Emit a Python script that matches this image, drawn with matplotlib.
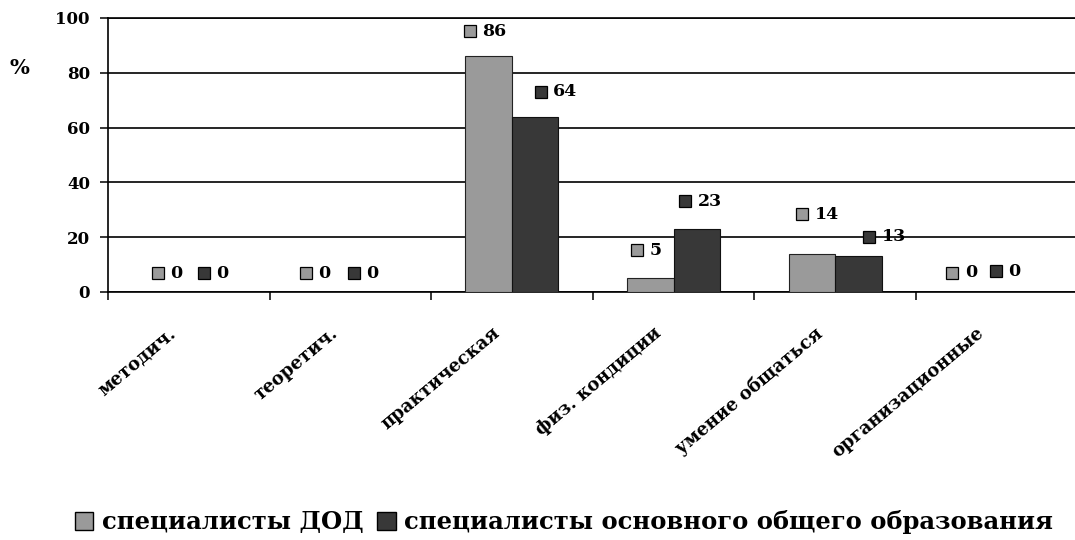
import matplotlib
matplotlib.use("Agg")
import matplotlib.pyplot as plt
import matplotlib.transforms as mtransforms
from matplotlib.patches import Patch
import numpy as np

# ---- data ----
categories = ["методич.", "теоретич.", "практическая", "физ. кондиции",
              "умение общаться", "организационные"]
series_names = ["специалисты ДОД", "специалисты основного общего образования"]
dod_values = [0, 0, 86, 5, 14, 0]
general_values = [0, 0, 64, 23, 13, 0]
y_ticks = [0, 20, 40, 60, 80, 100]

# ---- style ----
GRAY = "#9a9a9a"
DARK = "#383838"
FONT = "DejaVu Serif"
# label offsets (pixels) of marker center relative to bar top-center
dod_label_off = [(-8, 19), (-21, 19), (-19, 25), (-13.5, 28), (-9.5, 39.5), (-21, 19.5)]
gen_label_off = [(-8, 19), (-20, 19), (5.5, 25), (-11.5, 27.5), (11, 19.5), (-24, 21)]

W, H, DPI = 1075, 540, 100
fig = plt.figure(figsize=(W / DPI, H / DPI), dpi=DPI)
ax = fig.add_axes([108 / W, 1 - 292 / H, (1077.5 - 108) / W, 274 / H])

x = np.arange(len(categories))
bw = 0.288
ax.bar(x - bw / 2, dod_values, bw, color=GRAY, edgecolor="#222222", linewidth=0.8, zorder=3)
ax.bar(x + bw / 2, general_values, bw, color=DARK, edgecolor="#111111", linewidth=0.8, zorder=3)

ax.set_xlim(-0.5, len(categories) - 0.5)
ax.set_ylim(0, 100)
ax.set_yticks(y_ticks)
ax.set_yticklabels([str(v) for v in y_ticks], fontfamily=FONT, fontweight="bold", fontsize=12)
ax.yaxis.grid(True, color="black", linewidth=1.2, zorder=1)
ax.set_axisbelow(True)
ax.tick_params(axis="y", direction="out", length=6, width=1.1, pad=7, color="black")

ax.set_xticks(x)
ax.set_xticklabels(categories, rotation=40, ha="right", va="top",
                   fontfamily=FONT, fontweight="bold", fontsize=13)
ax.set_xticks(np.arange(-0.5, len(categories) + 0.5, 1), minor=True)
ax.tick_params(axis="x", which="major", length=0, pad=23)
ax.tick_params(axis="x", which="minor", direction="out", length=6, width=1.1, color="black")
shift = mtransforms.ScaledTranslation(-9 / DPI, 0, fig.dpi_scale_trans)
for lab in ax.get_xticklabels():
    lab.set_transform(lab.get_transform() + shift)

ax.spines["right"].set_visible(False)
for s in ["left", "bottom", "top"]:
    ax.spines[s].set_linewidth(1.2)
    ax.spines[s].set_color("black")

# data labels with legend keys
def add_labels(xpos, vals, offs, color):
    for xi, v, (dx, dy) in zip(xpos, vals, offs):
        tm = mtransforms.offset_copy(ax.transData, fig=fig, x=dx, y=dy, units="dots")
        ax.plot([xi], [v], marker="s", markersize=8.6, markerfacecolor=color,
                markeredgecolor="black", markeredgewidth=0.9, transform=tm,
                clip_on=False, zorder=5, linestyle="none")
        tt = mtransforms.offset_copy(ax.transData, fig=fig, x=dx + 12.5, y=dy, units="dots")
        ax.text(xi, v, str(v), transform=tt, ha="left", va="center",
                fontfamily=FONT, fontweight="bold", fontsize=12.5, zorder=5, clip_on=False)

add_labels(x - bw / 2, dod_values, dod_label_off, GRAY)
add_labels(x + bw / 2, general_values, gen_label_off, DARK)

fig.text(10 / W, 1 - 68 / H, "%", fontfamily=FONT, fontweight="bold", fontsize=15,
         ha="left", va="center")

handles = [Patch(facecolor=GRAY, edgecolor="black", linewidth=1.0),
           Patch(facecolor=DARK, edgecolor="black", linewidth=1.0)]
fig.legend(handles, series_names, loc="center left", bbox_to_anchor=(75 / W, 1 - 522 / H),
           ncol=2, frameon=False, borderpad=0, borderaxespad=0,
           handlelength=0.76, handleheight=0.76, handletextpad=0.36, columnspacing=0.55,
           prop={"family": FONT, "weight": "bold", "size": 17.5})

fig.savefig("out.png", dpi=DPI)
